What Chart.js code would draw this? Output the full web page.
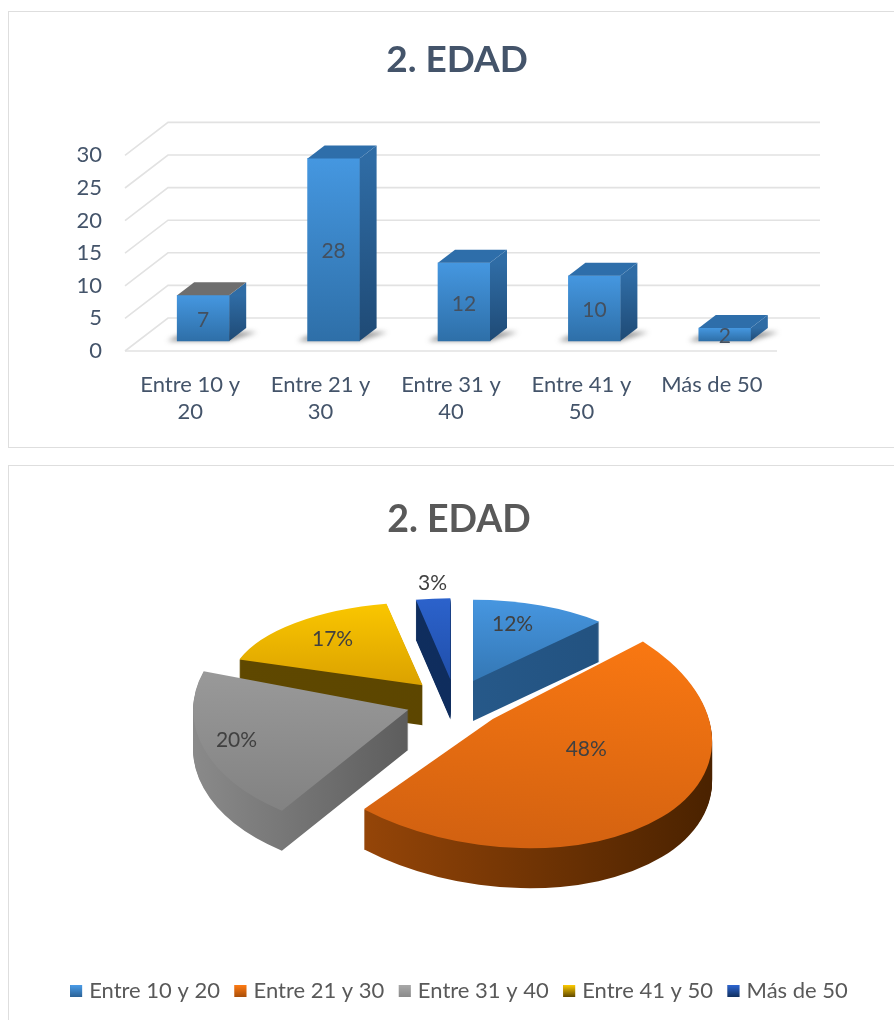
<!DOCTYPE html>
<html lang="es">
<head>
<meta charset="utf-8">
<title>2. EDAD</title>
<script src="https://cdn.jsdelivr.net/npm/chart.js@4"></script>
<style>
    html, body { margin: 0; padding: 0; background: #fff; overflow: hidden; }
    body { width: 894px; height: 1020px; position: relative; }
    .marco { position: absolute; left: 8px; border: 1px solid #dedede; border-right: none; }
    #marcoBarras { top: 11px; width: 885px; height: 435px; }
    #marcoPastel { top: 465px; width: 885px; height: 554px; border-bottom: none; }
    canvas { display: block; }
</style>
</head>
<body>
<div class="marco" id="marcoBarras"><canvas id="barras" width="885" height="435"></canvas></div>
<div class="marco" id="marcoPastel"><canvas id="pastel" width="885" height="554"></canvas></div>
<script>
const titulo = '2. EDAD';
const categorias = ['Entre 10 y 20', 'Entre 21 y 30', 'Entre 31 y 40', 'Entre 41 y 50', 'Más de 50'];
const etiquetasEje = [['Entre 10 y', '20'], ['Entre 21 y', '30'], ['Entre 31 y', '40'], ['Entre 41 y', '50'], 'Más de 50'];
const personas = [7, 28, 12, 10, 2];
const porcentajes = [12, 48, 20, 17, 3];

const fuente = 'Lato, sans-serif';
Chart.defaults.font.family = fuente;
Chart.defaults.animation = false;

// Colores de las caras 3D
const techoBarras = ['#6e6e6e', '#2e6eaa', '#2e6eaa', '#2e6eaa', '#2e6eaa'];
const caraSuperior = ['#4a9ce8', '#ff7b12', '#a8a8a8', '#ffcc00', '#2e66d2'];
const caraInferior = ['#103c62', '#c45910', '#707070', '#a05c00', '#0a2a6a'];
const paredClara = ['#2b6296', '#a84e0a', '#8a8a8a', '#5f4800', '#10305f'];
const paredOscura = ['#214f7c', '#4a2200', '#303030', '#5a4400', '#0e2a5c'];

// Forma de cada porción: la perspectiva agranda y aplasta distinto cada una
const escalaPorcion = [0.9, 1.07, 1.05, 0.94, 0.9];
const achatadoPorcion = [0.44, 0.58, 0.58, 0.43, 0.44];
const inclinacionPorcion = [0, 0.1, 0, 0, 0];
const radioEtiqueta = [0.67, 0.5, 0.83, 0.73, 1.2];
const ajusteEtiquetaX = [-6, 9, -2, 3, 3];
const ajusteEtiquetaY = [-6, -19, -2, -1, 1];

// ---- Gráfico de barras ----
const fondoX = 43, fondoY = 33;      // profundidad de las paredes
const barraDx = 17, barraDy = 13;    // profundidad de cada barra
const sueloX = 13, sueloY = -10;     // desplazamiento de las barras sobre el suelo

const cubo3d = {
    id: 'cubo3d',
    beforeDatasetsDraw(chart) {
        const { ctx, chartArea: area, scales } = chart;
        ctx.save();
        ctx.strokeStyle = '#e2e2e2';
        ctx.lineWidth = 1.6;
        scales.y.ticks.forEach(t => {
            const y = scales.y.getPixelForValue(t.value);
            ctx.beginPath();
            ctx.moveTo(area.left, y);
            ctx.lineTo(area.left + fondoX, y - fondoY);
            ctx.lineTo(area.right + fondoX, y - fondoY);
            ctx.stroke();
        });
        // suelo
        const y0 = scales.y.getPixelForValue(0);
        ctx.beginPath();
        ctx.moveTo(area.left, y0);
        ctx.lineTo(area.right, y0);
        ctx.stroke();

        // sombras en el suelo
        ctx.translate(sueloX, sueloY);
        ctx.filter = 'blur(2.5px)';
        ctx.fillStyle = 'rgba(60,60,60,0.55)';
        chart.getDatasetMeta(0).data.forEach(b => {
            const izq = b.x - b.width / 2, der = b.x + b.width / 2;
            ctx.beginPath();
            ctx.moveTo(izq - 10, b.base);
            ctx.lineTo(der, b.base);
            ctx.lineTo(der + 28, b.base - 9);
            ctx.lineTo(der + 10, b.base - 9);
            ctx.lineTo(izq, b.base - 5);
            ctx.fill();
        });
        ctx.restore();

        ctx.save();
        ctx.translate(sueloX, sueloY);
    },
    afterDatasetsDraw(chart) {
        const { ctx } = chart;
        chart.getDatasetMeta(0).data.forEach((b, i) => {
            const izq = b.x - b.width / 2, der = b.x + b.width / 2;
            // cara lateral
            const lado = ctx.createLinearGradient(0, b.y, 0, b.base);
            lado.addColorStop(0, '#2f6ca5');
            lado.addColorStop(1, '#1f4a75');
            ctx.fillStyle = lado;
            ctx.beginPath();
            ctx.moveTo(der, b.y);
            ctx.lineTo(der + barraDx, b.y - barraDy);
            ctx.lineTo(der + barraDx, b.base - barraDy);
            ctx.lineTo(der, b.base);
            ctx.closePath();
            ctx.fill();
            // cara superior
            ctx.fillStyle = techoBarras[i];
            ctx.beginPath();
            ctx.moveTo(izq, b.y);
            ctx.lineTo(izq + barraDx, b.y - barraDy);
            ctx.lineTo(der + barraDx, b.y - barraDy);
            ctx.lineTo(der, b.y);
            ctx.closePath();
            ctx.fill();
            // valor
            ctx.fillStyle = '#44505f';
            ctx.font = '21px ' + fuente;
            ctx.textAlign = 'center';
            ctx.textBaseline = 'middle';
            ctx.fillText(personas[i], b.x, (b.y + b.base) / 2 + 2);
        });
        ctx.restore();
    }
};

function degradadoBarra(c) {
    const { chart, dataIndex } = c;
    if (!chart.chartArea) return '#4597e0';
    const g = chart.ctx.createLinearGradient(0, chart.scales.y.getPixelForValue(personas[dataIndex]), 0, chart.scales.y.getPixelForValue(0));
    g.addColorStop(0, '#4597e0');
    g.addColorStop(1, '#2e6fa8');
    return g;
}

new Chart(document.getElementById('barras'), {
    type: 'bar',
    data: {
        labels: etiquetasEje,
        datasets: [{ data: personas, backgroundColor: degradadoBarra, barThickness: 52, clip: false }]
    },
    options: {
        responsive: false,
        layout: { padding: { left: 11 } },
        plugins: {
            legend: { display: false },
            tooltip: { enabled: false },
            title: {
                display: true, text: titulo, color: '#44546a',
                font: { size: 37, weight: 'bold' },
                padding: { top: 26, bottom: 73 }
            }
        },
        scales: {
            x: {
                grid: { display: false }, border: { display: false },
                ticks: { color: '#44546a', font: { size: 22, lineHeight: 1.23 }, padding: 12, maxRotation: 0 },
                afterFit(s) { s.height = 96; }
            },
            y: {
                min: 0, max: 30,
                grid: { display: false }, border: { display: false },
                ticks: { stepSize: 5, color: '#44546a', font: { size: 22 }, padding: 15 },
                afterFit(s) { s.width = 105; }
            },
            // reserva el hueco de la derecha sin mover el título
            derecha: {
                position: 'right', grid: { display: false }, border: { display: false },
                ticks: { display: false },
                afterFit(s) { s.width = 117; }
            }
        }
    },
    plugins: [cubo3d]
});

// ---- Gráfico de pastel ----
const centroPastel = { x: 446, y: 235 };
const grosor = 40, separacion = 49, radioBase = 205;

const anguloMedio = a => (a.startAngle + a.endAngle) / 2;

// dibuja el arco de la librería separado del centro y aplastado
function pintarPorcion(ctx, a, i, z, area) {
    const medio = anguloMedio(a);
    const k = achatadoPorcion[i];
    ctx.save();
    ctx.translate(centroPastel.x + Math.cos(medio) * separacion, centroPastel.y + Math.sin(medio) * separacion * k + z);
    ctx.transform(1, inclinacionPorcion[i], 0, k, 0, 0);
    ctx.translate(-a.x, -a.y);
    a.dibujoOriginal(ctx, area);
    ctx.restore();
}

const pastel3d = {
    id: 'pastel3d',
    afterDatasetsUpdate(chart) {
        chart.getDatasetMeta(0).data.forEach((a, i) => {
            a.outerRadius = radioBase * escalaPorcion[i];
            if (a.dibujoOriginal) return;
            a.dibujoOriginal = a.draw;
            a.draw = (ctx, area) => pintarPorcion(ctx, a, i, 0, area);
        });
    },
    beforeDatasetsDraw(chart) {
        const { ctx, chartArea } = chart;
        const arcos = chart.getDatasetMeta(0).data;
        // paredes, de atrás hacia delante
        const orden = arcos.map((a, i) => i).sort((p, q) => Math.sin(anguloMedio(arcos[p])) - Math.sin(anguloMedio(arcos[q])));
        orden.forEach(i => {
            const a = arcos[i];
            const opciones = a.options;
            const g = ctx.createLinearGradient(a.x - a.outerRadius, 0, a.x + a.outerRadius, 0);
            g.addColorStop(0, paredClara[i]);
            g.addColorStop(1, paredOscura[i]);
            a.options = Object.assign({}, opciones, { backgroundColor: g });
            for (let z = grosor; z > 0; z--) pintarPorcion(ctx, a, i, z, chartArea);
            a.options = opciones;
        });
    },
    afterDatasetsDraw(chart) {
        const { ctx } = chart;
        ctx.fillStyle = '#404040';
        ctx.font = '21px ' + fuente;
        ctx.textAlign = 'center';
        ctx.textBaseline = 'middle';
        chart.getDatasetMeta(0).data.forEach((a, i) => {
            const medio = anguloMedio(a);
            const r = radioEtiqueta[i] * a.outerRadius;
            const k = achatadoPorcion[i];
            const x = Math.cos(medio) * r;
            const y = Math.sin(medio) * r * k + x * inclinacionPorcion[i];
            ctx.fillText(porcentajes[i] + '%',
                centroPastel.x + Math.cos(medio) * separacion + x + ajusteEtiquetaX[i],
                centroPastel.y + Math.sin(medio) * separacion * k + y + ajusteEtiquetaY[i]);
        });
    },
    afterDraw(chart) {
        // cuadritos de la leyenda
        const { ctx, legend } = chart;
        legend.legendHitBoxes.forEach((h, i) => {
            const y = h.top + (h.height - 12) / 2;
            const g = ctx.createLinearGradient(0, y, 0, y + 12);
            g.addColorStop(0, caraSuperior[i]);
            g.addColorStop(1, paredClara[i]);
            ctx.fillStyle = g;
            ctx.fillRect(h.left, y, 12, 12);
        });
    }
};

function degradadoPastel(c) {
    const { chart, dataIndex } = c;
    if (!chart.chartArea) return caraSuperior[dataIndex];
    const cy = (chart.chartArea.top + chart.chartArea.bottom) / 2;
    const g = chart.ctx.createLinearGradient(0, cy - 220, 0, cy + 360);
    g.addColorStop(0, caraSuperior[dataIndex]);
    g.addColorStop(1, caraInferior[dataIndex]);
    return g;
}

new Chart(document.getElementById('pastel'), {
    type: 'pie',
    data: {
        labels: categorias,
        datasets: [{
            data: porcentajes, backgroundColor: degradadoPastel, borderWidth: 0,
            radius: radioBase, clip: false
        }]
    },
    options: {
        responsive: false,
        layout: { padding: { left: 15, bottom: 8 } },
        plugins: {
            tooltip: { enabled: false },
            title: {
                display: true, text: titulo, color: '#595959',
                font: { size: 37.5, weight: 'bold' },
                padding: { top: 31, bottom: 20 }
            },
            legend: {
                position: 'bottom',
                labels: { color: '#595959', font: { size: 22 }, boxWidth: 8, boxHeight: 12, padding: 14.5 }
            }
        }
    },
    plugins: [pastel3d]
});
</script>
</body>
</html>
